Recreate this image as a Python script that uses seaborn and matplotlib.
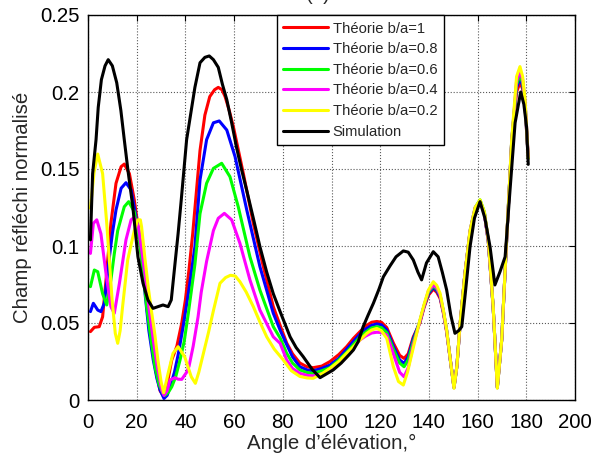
import matplotlib
matplotlib.use("Agg")
import matplotlib.pyplot as plt
import seaborn as sns
import pandas as pd

# ---------------- data ----------------
series_names = ["Théorie b/a=1", "Théorie b/a=0.8", "Théorie b/a=0.6",
                "Théorie b/a=0.4", "Théorie b/a=0.2", "Simulation"]
series_colors = ["#FF0000", "#0000FF", "#00FF00", "#FF00FF", "#FFFF00", "#000000"]

tail_x = [136.3, 138, 139.8, 141.8, 143.2, 144.6, 146, 147.3, 148.8, 150.3, 151.5,
          152.8, 154.8, 156.9, 159, 161, 162.8, 164.4, 166.4, 168.1, 169.9, 171.9,
          174, 176, 177.4, 178.5, 179.5, 180.8]

red_x = [1, 2.6, 4.6, 6, 7.4, 9.4, 11.5, 13.6, 14.9, 17, 19, 21, 22.5, 24.5, 26.2, 28,
         29.6, 30.8, 32, 34.4, 36.5, 38.5, 40, 41.5, 43, 44.5, 46, 48, 50, 52, 53.5, 55,
         56.3, 58, 59.7, 63.8, 67.9, 72, 76.1, 79, 81.6, 84, 87, 90, 92.5, 96, 99.4, 103,
         106.2, 109, 111.7, 114, 116.5, 118.6, 120.5, 122.7, 125.4, 128, 129.8, 131.5,
         133.6] + tail_x
red_y = [0.0444, 0.0472, 0.0476, 0.054, 0.078, 0.1147, 0.1407, 0.1515, 0.1532, 0.147,
         0.13, 0.108, 0.085, 0.058, 0.036, 0.018, 0.006, 0.003, 0.006, 0.026, 0.035,
         0.050, 0.065, 0.085, 0.108, 0.135, 0.162, 0.185, 0.197, 0.2015, 0.203, 0.2015,
         0.197, 0.188, 0.1775, 0.147, 0.1147, 0.0866, 0.0606, 0.048, 0.037, 0.030, 0.024,
         0.0215, 0.021, 0.022, 0.025, 0.0295, 0.0346, 0.040, 0.0444, 0.048, 0.0505,
         0.051, 0.0505, 0.047, 0.037, 0.029, 0.027, 0.030, 0.041,
         0.050, 0.060, 0.068, 0.072, 0.070, 0.066, 0.056, 0.044, 0.026, 0.0085, 0.022,
         0.049, 0.082, 0.109, 0.124, 0.129, 0.121, 0.103, 0.060, 0.0085, 0.039, 0.103,
         0.167, 0.200, 0.206, 0.202, 0.190, 0.157]

blue_x = [1, 2.2, 4, 5.3, 6.7, 8.8, 10, 11.5, 13.6, 15.6, 17.7, 19.7, 21.8, 23.5, 25,
          26.8, 28.3, 29.6, 31.2, 32.5, 33.7, 35.5, 37.1, 39, 41.2, 43.9, 46, 48.7, 51.5,
          53.9, 57, 60.4, 65.2, 70.6, 76.1, 79, 81.6, 84, 87, 90, 92.5, 96, 99.4, 103,
          106.2, 109, 111.7, 114, 116.5, 118.6, 120.5, 122.7, 125.4, 128, 129.8, 131.5,
          133.6] + tail_x
blue_y = [0.0574, 0.0628, 0.0584, 0.0574, 0.0628, 0.093, 0.108, 0.1234, 0.1375, 0.1411,
          0.1364, 0.119, 0.0974, 0.068, 0.045, 0.026, 0.014, 0.0065, 0.001, 0.003,
          0.0086, 0.018, 0.030, 0.047, 0.069, 0.0996, 0.1429, 0.169, 0.180, 0.1812,
          0.1753, 0.158, 0.1234, 0.0866, 0.0563, 0.045, 0.036, 0.028, 0.0216, 0.0195,
          0.019, 0.0205, 0.0227, 0.027, 0.033, 0.038, 0.0429, 0.046, 0.0485, 0.0494,
          0.0488, 0.0455, 0.035, 0.026, 0.0238, 0.028, 0.040,
          0.051, 0.061, 0.069, 0.073, 0.071, 0.067, 0.057, 0.045, 0.026, 0.008, 0.022,
          0.049, 0.082, 0.109, 0.124, 0.129, 0.121, 0.103, 0.060, 0.008, 0.039, 0.103,
          0.168, 0.203, 0.209, 0.204, 0.191, 0.157]

green_x = [1, 2.6, 4, 6, 7.7, 9.4, 10.8, 12.2, 14.9, 16.7, 19, 21.1, 22.5, 24.1, 25.8,
           27.5, 29.2, 30.9, 31.6, 33, 34.4, 36, 37.8, 39.5, 41.2, 43.9, 46, 48.7, 51.5,
           54.9, 58.3, 61.7, 66.5, 70.6, 76.1, 79, 81.6, 84, 87, 90, 92.5, 96, 99.4, 103,
           106.2, 109, 111.7, 114, 116.5, 118.6, 120.5, 122.7, 125.4, 128, 129.8, 131.5,
           133.6] + tail_x
green_y = [0.0736, 0.0844, 0.0833, 0.069, 0.0617, 0.078, 0.095, 0.110, 0.1255, 0.1288,
           0.1223, 0.104, 0.085, 0.0606, 0.040, 0.0216, 0.010, 0.004, 0.003, 0.005,
           0.0086, 0.015, 0.026, 0.038, 0.0563, 0.088, 0.121, 0.1407, 0.1504, 0.1537,
           0.145, 0.1255, 0.093, 0.0714, 0.0476, 0.040, 0.0303, 0.024, 0.0195, 0.0178,
           0.0173, 0.019, 0.021, 0.026, 0.031, 0.036, 0.041, 0.044, 0.0468, 0.0476,
           0.047, 0.0437, 0.033, 0.024, 0.0216, 0.026, 0.038,
           0.051, 0.061, 0.070, 0.074, 0.072, 0.068, 0.057, 0.045, 0.026, 0.008, 0.022,
           0.049, 0.082, 0.110, 0.125, 0.130, 0.122, 0.103, 0.060, 0.008, 0.039, 0.103,
           0.168, 0.205, 0.211, 0.206, 0.193, 0.157]

magenta_x = [1, 2.2, 3.6, 5.3, 7.4, 9.4, 10.8, 12.9, 15.6, 17.7, 19, 20.7, 21.8, 23.4,
             25, 26.8, 28.5, 30.3, 31.2, 32.5, 33.7, 35.7, 37, 38.5, 40.5, 41.5, 43.2,
             45.2, 46.5, 48.7, 51.5, 53.5, 56, 59, 62.4, 66.5, 70.6, 76.1, 78.9, 81.6, 84,
             87, 90, 92.5, 96, 99.4, 103, 106.2, 109, 111.7, 114, 116.5, 118.6, 120.5,
             122.7, 125.4, 128, 129.8, 131.5, 133.6] + tail_x
magenta_y = [0.0952, 0.1147, 0.117, 0.108, 0.082, 0.0606, 0.0563, 0.0758, 0.104, 0.117,
             0.1186, 0.1125, 0.100, 0.082, 0.060, 0.039, 0.021, 0.0065, 0.003, 0.006,
             0.013, 0.0145, 0.0135, 0.0134, 0.018, 0.022, 0.035, 0.054, 0.070, 0.090,
             0.110, 0.118, 0.1212, 0.117, 0.1017, 0.078, 0.0584, 0.041, 0.0368, 0.026,
             0.0205, 0.0173, 0.016, 0.0156, 0.017, 0.0188, 0.023, 0.029, 0.034, 0.039,
             0.0415, 0.0435, 0.044, 0.0438, 0.0422, 0.030, 0.018, 0.0151, 0.021, 0.036,
             0.051, 0.061, 0.071, 0.0745, 0.073, 0.068, 0.057, 0.045, 0.026, 0.008, 0.022,
             0.049, 0.082, 0.110, 0.125, 0.129, 0.121, 0.103, 0.060, 0.008, 0.039, 0.103,
             0.168, 0.207, 0.2135, 0.208, 0.194, 0.158]

yellow_x = [1, 2.5, 4, 6, 7.7, 9.9, 11.2, 12.2, 13.2, 14.2, 16.3, 19, 20.5, 21.5, 22,
            23.3, 24.8, 26, 27.5, 28.7, 30, 31.1, 32.9, 34.9, 37, 39.7, 42.4, 44.1, 45.5,
            47.4, 49.5, 51.5, 54.2, 56.5, 58.5, 60.5, 62.4, 65, 67.9, 70.5, 73.4, 76.5,
            80.2, 83.5, 87, 90, 92.5, 96, 99.4, 103, 106, 109, 111.7, 114.5, 116.5, 118.6,
            120.5, 122.7, 125.4, 127.5, 129.5, 131.2, 133] + tail_x
yellow_y = [0.1245, 0.148, 0.1597, 0.147, 0.1147, 0.065, 0.0433, 0.0368, 0.045, 0.0606,
            0.091, 0.110, 0.117, 0.117, 0.1125, 0.093, 0.0725, 0.0584, 0.042, 0.026,
            0.012, 0.0047, 0.0173, 0.0303, 0.0346, 0.0281, 0.0151, 0.0108, 0.018, 0.0303,
            0.044, 0.058, 0.0758, 0.0795, 0.081, 0.0805, 0.0768, 0.070, 0.0606, 0.051,
            0.041, 0.033, 0.026, 0.019, 0.0153, 0.0143, 0.0141, 0.017, 0.0206, 0.025,
            0.030, 0.0346, 0.039, 0.0433, 0.0455, 0.0465, 0.045, 0.040, 0.0216, 0.012,
            0.0097, 0.018, 0.030,
            0.052, 0.062, 0.0714, 0.0768, 0.0745, 0.0693, 0.058, 0.0455, 0.026, 0.0076,
            0.022, 0.0498, 0.082, 0.110, 0.125, 0.130, 0.122, 0.104, 0.0606, 0.0076,
            0.039, 0.104, 0.169, 0.210, 0.2165, 0.210, 0.195, 0.157]

black_x = [1, 1.9, 3.3, 4.2, 5.5, 7, 8.3, 10, 11.8, 13.5, 14.9, 16.5, 18.4, 20.5, 22.6,
           24.6, 26.7, 28.7, 30.8, 32.9, 34.2, 35.6, 37, 38.3, 40.5, 43.9, 46, 48, 49.8,
           51.5, 53.5, 55.2, 57, 59, 61, 63, 65.2, 67.9, 70.6, 73.4, 76.1, 78.9, 83, 85.5,
           88.4, 92, 95.3, 98, 100.7, 104, 107, 109, 111, 113, 115, 117.2, 119.5, 121.3,
           124, 126.5, 129.5, 131.5, 133.6, 135.5, 137, 139, 141.8, 143.8, 145.5, 147.3,
           149, 150.7, 152.2, 153.5, 155, 156.9, 158.7, 161, 163, 165.1, 167.1, 169.2,
           171.3, 173.3, 175.4, 177.7, 179, 180.1, 180.8]
black_y = [0.104, 0.147, 0.169, 0.190, 0.208, 0.217, 0.221, 0.217, 0.206, 0.188, 0.169,
           0.148, 0.1255, 0.093, 0.0758, 0.065, 0.0595, 0.0606, 0.0617, 0.0606, 0.065,
           0.0866, 0.108, 0.130, 0.169, 0.203, 0.219, 0.2225, 0.2234, 0.221, 0.216,
           0.205, 0.195, 0.180, 0.164, 0.150, 0.136, 0.118, 0.0996, 0.083, 0.069, 0.0574,
           0.041, 0.034, 0.0281, 0.020, 0.0145, 0.017, 0.0195, 0.024, 0.029, 0.0325,
           0.038, 0.0476, 0.055, 0.0628, 0.072, 0.080, 0.087, 0.093, 0.0968, 0.096,
           0.0909, 0.083, 0.078, 0.089, 0.0963, 0.093, 0.083, 0.0714, 0.055, 0.0433,
           0.045, 0.0476, 0.070, 0.0996, 0.118, 0.1288, 0.118, 0.0996, 0.0747, 0.0833,
           0.093, 0.136, 0.180, 0.200, 0.192, 0.1775, 0.153]

x_ticks = [0, 20, 40, 60, 80, 100, 120, 140, 160, 180, 200]
y_ticks = [0, 0.05, 0.1, 0.15, 0.2, 0.25]
y_tick_labels = ["0", "0.05", "0.1", "0.15", "0.2", "0.25"]
x_label = "Angle d\u2019élévation,°"
y_label = "Champ réfléchi normalisé"
title_text = "(a)"

# ---------------- plot ----------------
sns.set_style("white")
plt.rcParams["font.family"] = ["Liberation Sans", "DejaVu Sans"]

all_x = [red_x, blue_x, green_x, magenta_x, yellow_x, black_x]
all_y = [red_y, blue_y, green_y, magenta_y, yellow_y, black_y]

fig = plt.figure(figsize=(5.92, 4.58), dpi=100)
ax = fig.add_axes([88 / 592, 58 / 458, 487 / 592, 385 / 458])

for name, color, xs, ys in zip(series_names, series_colors, all_x, all_y):
    df = pd.DataFrame({"x": xs, "y": ys})
    sns.lineplot(data=df, x="x", y="y", color=color, linewidth=2.2, label=name,
                 sort=False, estimator=None, ax=ax)

ax.set_xlim(0, 200)
ax.set_ylim(0, 0.25)
ax.set_xticks(x_ticks)
ax.set_xticklabels([str(t) for t in x_ticks])
ax.set_yticks(y_ticks)
ax.set_yticklabels(y_tick_labels)
ax.grid(True, linestyle=":", color="0.35", linewidth=0.8)
ax.tick_params(direction="in", length=4, width=0.8, top=True, right=True,
               labelsize=14.7, pad=6, colors="black")
ax.tick_params(axis="x", pad=9)
for s in ax.spines.values():
    s.set_color("black")
    s.set_linewidth(1.0)
ax.set_xlabel(x_label, fontsize=14.7, labelpad=2)
ax.set_ylabel(y_label, fontsize=14.7, labelpad=6)

leg = ax.legend(loc="upper left", bbox_to_anchor=(0.3875, 1.0), borderaxespad=0,
                fontsize=10.6, frameon=True, fancybox=False, framealpha=1,
                edgecolor="black", handlelength=3.0, handletextpad=0.35,
                labelspacing=0.45, borderpad=0.45)
leg.get_frame().set_linewidth(1.0)

fig.text(318 / 592, 1 - 0.5 / 458, title_text, ha="center", va="baseline", fontsize=14.7)

fig.savefig("out.png", dpi=100)
